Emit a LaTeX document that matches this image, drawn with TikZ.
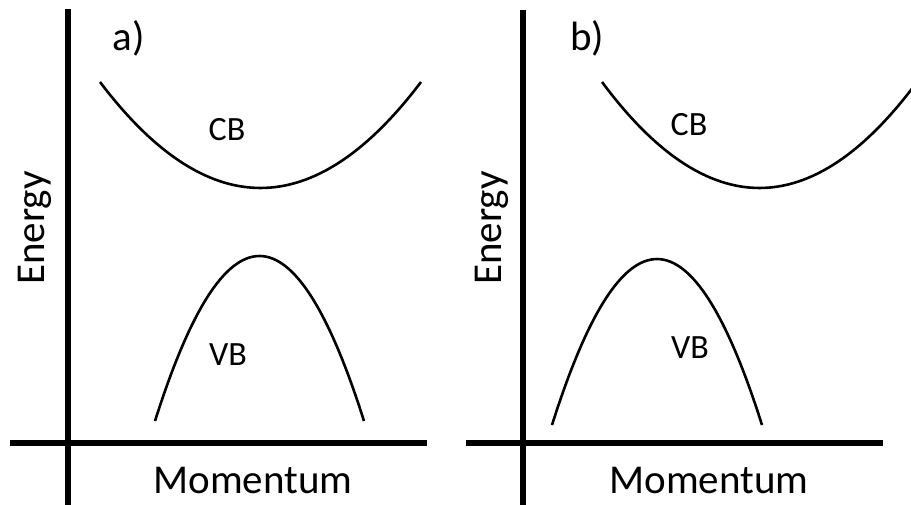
\documentclass[tikz,border=0pt]{standalone}
\usepackage{fontspec}
\setmainfont{Carlito}
\begin{document}
\begin{tikzpicture}[x=1pt,y=-1pt,
  axis/.style={line width=5.5pt},
  band/.style={line width=2.6pt},
  big/.style={font=\fontsize{41}{48}\selectfont, inner sep=0pt, anchor=base},
  bandlabel/.style={font=\fontsize{34}{40}\selectfont, inner sep=0pt, anchor=base}]
\useasboundingbox (0,0) rectangle (911,504);
\begin{scope}
\clip (0,0) rectangle (911,504);
% panel a axes
\coordinate (aYt) at (68,9);
\coordinate (aYb) at (68,506);
\coordinate (aXl) at (10,443);
\coordinate (aXr) at (427,443);
\draw[axis] (aYt) -- (aYb);
\draw[axis] (aXl) -- (aXr);
% panel a bands
\draw[band] (100,82) .. controls (207,223.3) and (314,223.3) .. (421,82);
\draw[band] (155,421) .. controls (224.7,201) and (294.3,201) .. (364,421);
% panel b axes
\coordinate (bYt) at (523,10);
\coordinate (bYb) at (523,506);
\coordinate (bXl) at (466,443);
\coordinate (bXr) at (883,443);
\draw[axis] (bYt) -- (bYb);
\draw[axis] (bXl) -- (bXr);
% panel b bands
\draw[band] (602,82) .. controls (707,223.3) and (812,223.3) .. (917,82);
\draw[band] (552,425) .. controls (622,203.7) and (692,203.7) .. (762,425);
\end{scope}
% labels
\node[big] (alab) at (128.5,50) {a)};
\node[big] (blab) at (587,50) {b)};
\node[big, rotate=90] (aE) at (45,228) {Energy};
\node[big, rotate=90] (bE) at (501,228) {Energy};
\node[big] (aM) at (253,493) {Momentum};
\node[big] (bM) at (709,493) {Momentum};
\node[bandlabel] (aCB) at (227,140) {CB};
\node[bandlabel] (aVB) at (228,365) {VB};
\node[bandlabel] (bCB) at (689,135) {CB};
\node[bandlabel] (bVB) at (690,358) {VB};
\end{tikzpicture}
\end{document}
